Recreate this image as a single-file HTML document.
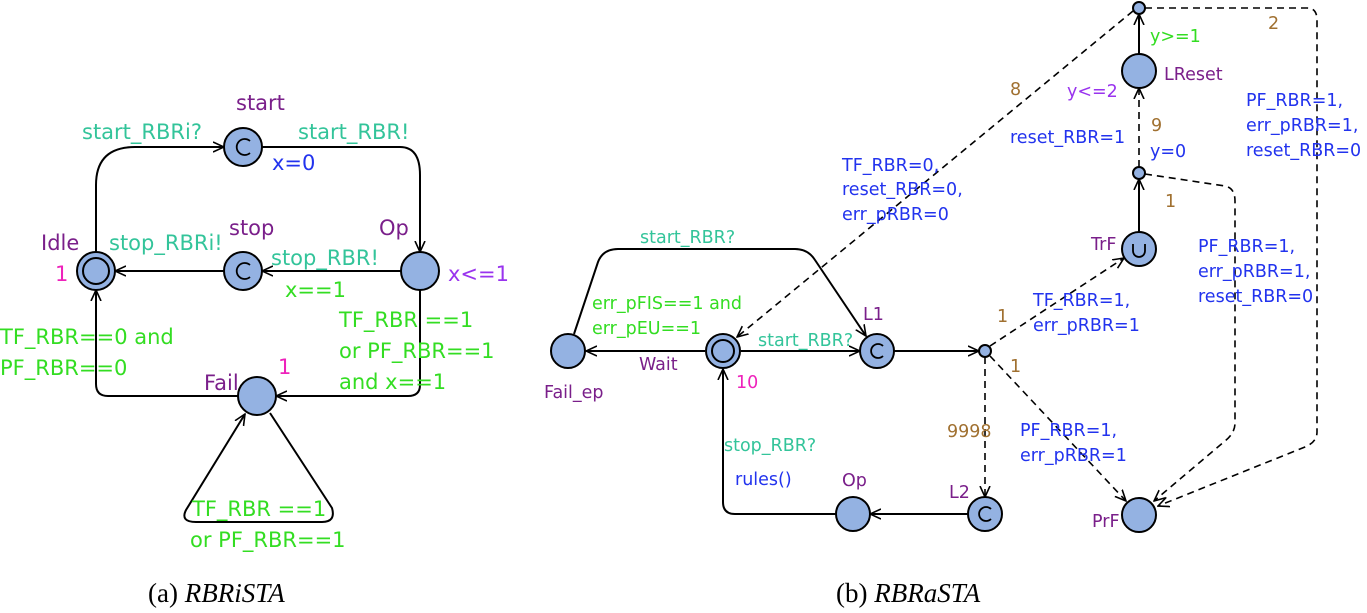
<!DOCTYPE html>
<html><head><meta charset="utf-8"><style>
html,body{margin:0;padding:0;background:#fff;}
svg{display:block;}
text{font-family:"DejaVu Sans","Liberation Sans",sans-serif;}
.a{font-size:21px;}
.b{font-size:17.5px;}
.pu{fill:#7a1f8a;}
.te{fill:#33c49a;}
.bl{fill:#2233ee;}
.gr{fill:#33dd22;}
.vi{fill:#9933ee;}
.mg{fill:#ee22bb;}
.br{fill:#a07030;}
.cap{font-family:"Liberation Serif",serif;font-size:27px;fill:#000;}
</style></head><body>
<svg width="1367" height="613" viewBox="0 0 1367 613" xmlns="http://www.w3.org/2000/svg">
<defs>
<marker id="ar" viewBox="0 0 12 12" refX="11" refY="6" markerWidth="12" markerHeight="12" markerUnits="userSpaceOnUse" orient="auto">
<path d="M0,1 L11,6 L0,11" fill="none" stroke="#000" stroke-width="1.6"/>
</marker>
</defs>
<g fill="none" stroke="#000" stroke-width="2">
<path d="M96,252 V185 Q96,147 135,147 H224" marker-end="url(#ar)"/>
<path d="M262,147 H400 Q420,147 420,175 V252" marker-end="url(#ar)"/>
<path d="M401,271 H262" marker-end="url(#ar)"/>
<path d="M224,271 H115" marker-end="url(#ar)"/>
<path d="M420,290 V385 Q420,396 408,396 H276" marker-end="url(#ar)"/>
<path d="M238,396 H108 Q96,396 96,384 V290" marker-end="url(#ar)"/>
<path d="M270,413 L332,508 Q336,522 322,522 H196 Q180,522 186,510 L245,414" marker-end="url(#ar)"/>
<path d="M574,334 L598,262 Q603,249 618,249 H795 Q808,249 815,260 L866,336" marker-end="url(#ar)"/>
<path d="M705,351 H586" marker-end="url(#ar)"/>
<path d="M741,351 H860" marker-end="url(#ar)"/>
<path d="M894,351 H979" marker-end="url(#ar)"/>
<path d="M968,514 H870" marker-end="url(#ar)"/>
<path d="M836,514 H735 Q723,514 723,502 V369" marker-end="url(#ar)"/>
<path d="M1139,232 V179" marker-end="url(#ar)"/>
<path d="M1139,54 V14" marker-end="url(#ar)"/>
</g>
<g fill="none" stroke="#000" stroke-width="1.6" stroke-dasharray="7,5">
<path d="M1133,11 L737,337" marker-end="url(#ar)"/>
<path d="M985,357 V497" marker-end="url(#ar)"/>
<path d="M990,346 L1124,258" marker-end="url(#ar)"/>
<path d="M990,356 L1126,501" marker-end="url(#ar)"/>
<path d="M1139,167 V88" marker-end="url(#ar)"/>
<path d="M1145,174 L1225,186 Q1235,188 1235,201 V423 Q1235,433 1225,441 L1154,501" marker-end="url(#ar)"/>
<path d="M1145,8 H1307 Q1317,8 1317,20 V432 Q1317,442 1305,447 L1158,506" marker-end="url(#ar)"/>
</g>
<g fill="#94b2e2" stroke="#000" stroke-width="2">
<circle cx="243" cy="147" r="19"/>
<circle cx="96" cy="271" r="19"/><circle cx="96" cy="271" r="13"/>
<circle cx="243" cy="271" r="19"/>
<circle cx="420" cy="271" r="19"/>
<circle cx="257" cy="396" r="19"/>
<circle cx="568" cy="351" r="17"/>
<circle cx="723" cy="351" r="17"/><circle cx="723" cy="351" r="11"/>
<circle cx="877" cy="351" r="17"/>
<circle cx="985" cy="351" r="6"/>
<circle cx="985" cy="514" r="17"/>
<circle cx="853" cy="514" r="17"/>
<circle cx="1139" cy="8" r="6"/>
<circle cx="1139" cy="71" r="17"/>
<circle cx="1139" cy="173" r="6"/>
<circle cx="1139" cy="249" r="17"/>
<circle cx="1139" cy="515" r="17"/>
</g>
<g fill="none" stroke="#000" stroke-width="1.8">
<path d="M250,141 A8,8 0 1 0 250,153"/>
<path d="M250,265 A8,8 0 1 0 250,277"/>
<path d="M883,346 A7,7 0 1 0 883,356"/>
<path d="M991,509 A7,7 0 1 0 991,519"/>
<path d="M1133,244 V251 A6,6 0 0 0 1145,251 V244"/>
</g>
<text class="a pu" x="236" y="110">start</text>
<text class="a te" x="82" y="139">start_RBRi?</text>
<text class="a te" x="298" y="139">start_RBR!</text>
<text class="a bl" x="272" y="170">x=0</text>
<text class="a pu" x="229" y="235">stop</text>
<text class="a pu" x="379" y="235">Op</text>
<text class="a pu" x="41" y="250">Idle</text>
<text class="a mg" x="55" y="281">1</text>
<text class="a te" x="109" y="250">stop_RBRi!</text>
<text class="a te" x="271" y="265">stop_RBR!</text>
<text class="a gr" x="285" y="297">x==1</text>
<text class="a vi" x="448" y="281">x&lt;=1</text>
<text class="a gr" x="339" y="327">TF_RBR ==1</text>
<text class="a gr" x="339" y="358">or PF_RBR==1</text>
<text class="a gr" x="339" y="389">and x==1</text>
<text class="a gr" x="0" y="344">TF_RBR==0 and</text>
<text class="a gr" x="0" y="375">PF_RBR==0</text>
<text class="a pu" x="204" y="390">Fail</text>
<text class="a mg" x="278" y="374">1</text>
<text class="a gr" x="192" y="516">TF_RBR ==1</text>
<text class="a gr" x="190" y="547">or PF_RBR==1</text>
<text class="cap" x="148" y="602">(a) <tspan font-style="italic">RBRiSTA</tspan></text>
<text class="b br" x="1010" y="95">8</text>
<text class="b vi" x="1067" y="97">y&lt;=2</text>
<text class="b pu" x="1164" y="80">LReset</text>
<text class="b gr" x="1150" y="42">y&gt;=1</text>
<text class="b br" x="1268" y="29">2</text>
<text class="b bl" x="1246" y="106">PF_RBR=1,</text>
<text class="b bl" x="1246" y="131">err_pRBR=1,</text>
<text class="b bl" x="1246" y="156">reset_RBR=0</text>
<text class="b bl" x="1010" y="143">reset_RBR=1</text>
<text class="b br" x="1151" y="131">9</text>
<text class="b bl" x="1150" y="157">y=0</text>
<text class="b bl" x="842" y="171">TF_RBR=0,</text>
<text class="b bl" x="842" y="195">reset_RBR=0,</text>
<text class="b bl" x="842" y="220">err_pRBR=0</text>
<text class="b br" x="1165" y="207">1</text>
<text class="b pu" x="1091" y="250">TrF</text>
<text class="b bl" x="1198" y="252">PF_RBR=1,</text>
<text class="b bl" x="1198" y="277">err_pRBR=1,</text>
<text class="b bl" x="1198" y="302">reset_RBR=0</text>
<text class="b br" x="997" y="322">1</text>
<text class="b bl" x="1033" y="306">TF_RBR=1,</text>
<text class="b bl" x="1033" y="331">err_pRBR=1</text>
<text class="b br" x="1010" y="372">1</text>
<text class="b br" x="947" y="437">9998</text>
<text class="b bl" x="1020" y="436">PF_RBR=1,</text>
<text class="b bl" x="1020" y="461">err_pRBR=1</text>
<text class="b pu" x="1092" y="527">PrF</text>
<text class="b pu" x="863" y="320">L1</text>
<text class="b pu" x="949" y="498">L2</text>
<text class="b pu" x="842" y="486">Op</text>
<text class="b te" x="640" y="243">start_RBR?</text>
<text class="b gr" x="592" y="309">err_pFIS==1 and</text>
<text class="b gr" x="592" y="334">err_pEU==1</text>
<text class="b te" x="758" y="346">start_RBR?</text>
<text class="b pu" x="639" y="370">Wait</text>
<text class="b pu" x="544" y="398">Fail_ep</text>
<text class="b mg" x="736" y="388">10</text>
<text class="b te" x="724" y="451">stop_RBR?</text>
<text class="b bl" x="735" y="485">rules()</text>
<text class="cap" x="836" y="602">(b) <tspan font-style="italic">RBRaSTA</tspan></text>
</svg>
</body></html>
